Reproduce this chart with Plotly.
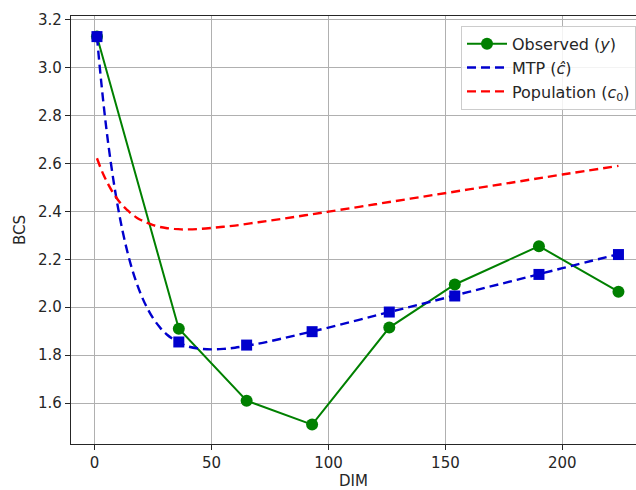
import plotly.graph_objects as go

# Observed points
dim_obs = [1, 36, 65, 93, 126, 154, 190, 224]
bcs_obs = [3.13, 1.91, 1.61, 1.51, 1.915, 2.095, 2.255, 2.065]

# MTP estimate at observed dims (squares)
bcs_mtp_pts = [3.13, 1.855, 1.842, 1.898, 1.980, 2.047, 2.137, 2.220]

# MTP curve
dim_curve = [1, 2, 3, 4, 5, 6, 8, 10, 12, 14, 16, 18, 20, 22, 25, 28, 31, 34, 37, 40,
             45, 50, 55, 60, 70, 80, 90, 100, 120, 140, 160, 180, 200, 224]
bcs_mtp_curve = [3.130, 3.023, 2.924, 2.832, 2.748, 2.670, 2.533, 2.416, 2.316, 2.232,
                 2.160, 2.100, 2.049, 2.006, 1.954, 1.915, 1.885, 1.864, 1.848, 1.836,
                 1.827, 1.824, 1.826, 1.831, 1.848, 1.869, 1.892, 1.915, 1.965, 2.014,
                 2.064, 2.113, 2.163, 2.222]

# Population curve
bcs_pop_curve = [2.622, 2.596, 2.571, 2.549, 2.529, 2.510, 2.476, 2.448, 2.424, 2.405,
                 2.388, 2.374, 2.363, 2.354, 2.343, 2.335, 2.330, 2.327, 2.325, 2.325,
                 2.327, 2.331, 2.336, 2.341, 2.355, 2.369, 2.384, 2.399, 2.430, 2.461,
                 2.492, 2.523, 2.554, 2.590]

x_ticks = [0, 50, 100, 150, 200]
y_ticks = [1.6, 1.8, 2.0, 2.2, 2.4, 2.6, 2.8, 3.0, 3.2]

GREEN = "#008000"
BLUE = "#0000CD"
RED = "#FF0000"
FONT = "DejaVu Sans"

fig = go.Figure()
fig.add_trace(go.Scatter(
    x=dim_obs, y=bcs_obs, mode="lines+markers", name="Observed (<i>y</i>)",
    line=dict(color=GREEN, width=2),
    marker=dict(symbol="circle", size=12, color=GREEN),
))
fig.add_trace(go.Scatter(
    x=dim_curve, y=bcs_mtp_curve, mode="lines", name="MTP (<i>ĉ</i>)",
    line=dict(color=BLUE, width=2.4, dash="9px,5px", shape="spline"),
))
fig.add_trace(go.Scatter(
    x=dim_obs, y=bcs_mtp_pts, mode="markers", showlegend=False,
    marker=dict(symbol="square", size=11, color=BLUE),
))
fig.add_trace(go.Scatter(
    x=dim_curve, y=bcs_pop_curve, mode="lines", name="Population (<i>c</i><sub>0</sub>)",
    line=dict(color=RED, width=2.4, dash="9px,5px", shape="spline"),
))

axis_common = dict(
    showgrid=True, gridcolor="#b0b0b0", gridwidth=1,
    showline=True, linecolor="#262626", linewidth=1.3,
    ticks="outside", ticklen=5, tickwidth=1.2, tickcolor="#262626",
    tickfont=dict(family=FONT, size=15, color="#262626"),
    zeroline=False,
)

fig.update_layout(
    width=636, height=490,
    margin=dict(l=71, r=0, t=16, b=46, pad=0),
    paper_bgcolor="white", plot_bgcolor="white",
    font=dict(family=FONT, size=15, color="#262626"),
    xaxis=dict(range=[-10.1, 231.5], tickvals=x_ticks, ticktext=[str(v) for v in x_ticks],
               mirror=True,
               title=dict(text="DIM", font=dict(family=FONT, size=15), standoff=4),
               **axis_common),
    yaxis=dict(range=[1.429, 3.216], tickvals=y_ticks, ticktext=[f"{v:.1f}" for v in y_ticks],
               title=dict(text="BCS", font=dict(family=FONT, size=15), standoff=8),
               **axis_common),
    legend=dict(x=1, y=0.977, xanchor="right", yanchor="top",
                bgcolor="rgba(255,255,255,0.85)", bordercolor="#cccccc", borderwidth=1,
                font=dict(family=FONT, size=16, color="#262626"),
                itemwidth=40, tracegroupgap=0),
    showlegend=True,
)

fig.write_html("out.html")
